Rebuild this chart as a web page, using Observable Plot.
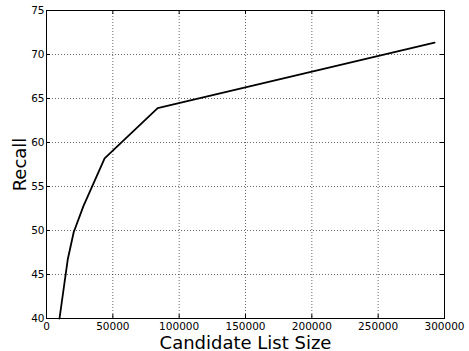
<!DOCTYPE html>
<html>
<head>
<meta charset="utf-8">
<script src="https://cdn.jsdelivr.net/npm/d3@7"></script>
<script src="https://cdn.jsdelivr.net/npm/@observablehq/plot@0.6"></script>
<style>
  html, body { margin: 0; padding: 0; background: #fff; }
  #chart svg { display: block; }
</style>
</head>
<body>
<div id="chart"></div>
<script>
const candidateSize = [9800, 16000, 20500, 27900, 43800, 83800, 292500];
const recall = [40.0, 46.7, 49.8, 52.8, 58.2, 63.9, 71.35];
const xTicks = [0, 50000, 100000, 150000, 200000, 250000, 300000];
const yTicks = [40, 45, 50, 55, 60, 65, 70, 75];
const xLabel = "Candidate List Size";
const yLabel = "Recall";

const data = candidateSize.map((x, i) => ({x, y: recall[i]}));

const W = 469, H = 351;
const mL = 46, mR = 25, mT = 10, mB = 33;
const innerH = H - mT - mB;
const innerW = W - mL - mR;
const tickLen = 4;

const chart = Plot.plot({
  width: W,
  height: H,
  marginLeft: mL,
  marginRight: mR,
  marginTop: mT,
  marginBottom: mB,
  style: {fontFamily: "DejaVu Sans", background: "#fff", color: "#000"},
  x: {domain: [0, 300000]},
  y: {domain: [40, 75]},
  marks: [
    Plot.gridX(xTicks, {stroke: "#000", strokeOpacity: 1, strokeWidth: 0.6, strokeDasharray: "1,2"}),
    Plot.gridY(yTicks, {stroke: "#000", strokeOpacity: 1, strokeWidth: 0.6, strokeDasharray: "1,2"}),
    Plot.tickX(xTicks, {x: d => d, insetTop: innerH - tickLen, stroke: "#000"}),
    Plot.tickX(xTicks, {x: d => d, insetBottom: innerH - tickLen, stroke: "#000"}),
    Plot.tickY(yTicks, {y: d => d, insetRight: innerW - tickLen, stroke: "#000"}),
    Plot.tickY(yTicks, {y: d => d, insetLeft: innerW - tickLen, stroke: "#000"}),
    Plot.axisX(xTicks, {tickSize: 0, tickPadding: 4, fontSize: 10.5, tickFormat: d => String(d), label: null}),
    Plot.axisY(yTicks, {tickSize: 0, tickPadding: 2, fontSize: 10.5, tickFormat: d => String(d), label: null}),
    Plot.line(data, {x: "x", y: "y", stroke: "#000", strokeWidth: 1.8}),
    Plot.frame({stroke: "#000", strokeWidth: 1}),
    Plot.text([xLabel], {frameAnchor: "bottom", dy: 30, textAnchor: "middle", lineAnchor: "bottom", fontSize: 18, fill: "#000"}),
    Plot.text([yLabel], {frameAnchor: "left", dx: -21, rotate: -90, textAnchor: "middle", lineAnchor: "bottom", fontSize: 18, fill: "#000"})
  ]
});
document.getElementById("chart").appendChild(chart);
</script>
</body>
</html>
